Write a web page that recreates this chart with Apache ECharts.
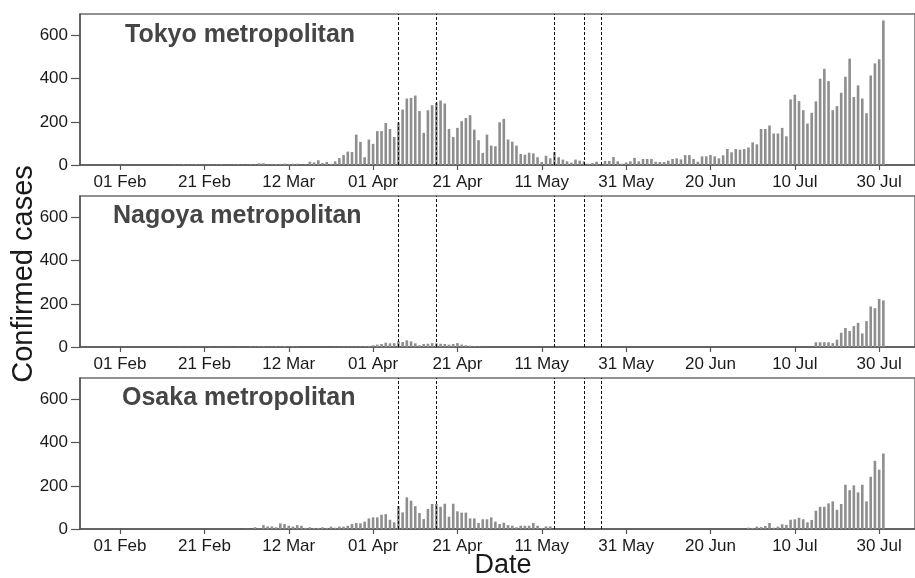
<!DOCTYPE html>
<html>
<head>
<meta charset="utf-8">
<script src="https://cdn.jsdelivr.net/npm/echarts@6/dist/echarts.min.js"></script>
<style>
html,body{margin:0;padding:0;background:#fff;}
#chart{width:915px;height:578px;}
</style>
</head>
<body>
<div id="chart"></div>
<script>
// ---------- DATA ----------
const startDate = '2020-01-23';
const dayCount = 198; // 23 Jan .. 7 Aug 2020
const tickDates = ['2020-02-01','2020-02-21','2020-03-12','2020-04-01','2020-04-21','2020-05-11','2020-05-31','2020-06-20','2020-07-10','2020-07-30'];
const tickLabels = ['01 Feb','21 Feb','12 Mar','01 Apr','21 Apr','11 May','31 May','20 Jun','10 Jul','30 Jul'];
const eventDates = ['2020-04-07','2020-04-16','2020-05-14','2020-05-21','2020-05-25'];
const yTicks = [0, 200, 400, 600];
const panelNames = ['Tokyo metropolitan', 'Nagoya metropolitan', 'Osaka metropolitan'];

// Tokyo metropolitan
const tokyoJan = [0,0,0,0,0,0,0,0,0];
const tokyoFeb = [0,0,0,0,0,0,0,0,0,0,0,0,1,2,1,3,2,2,3,2,1,2,1,2,3,1,1,2,3];
const tokyoMar = [2,1,3,2,8,8,2,3,4,5,6,4,6,6,2,3,15,12,22,9,14,5,17,32,46,62,60,141,107,36,118];
const tokyoApr = [98,157,157,195,167,130,197,257,308,311,322,250,149,254,277,288,299,285,167,130,172,203,218,231,164,115,56,141,90,87];
const tokyoMay = [198,214,118,108,90,51,48,57,54,36,14,43,31,60,36,25,17,11,25,20,17,6,9,15,3,19,19,37,17,6,12];
const tokyoJun = [17,33,17,28,28,28,15,14,14,20,28,31,26,46,46,28,15,40,40,46,40,31,45,74,59,74,71,74,81,105];
const tokyoJul = [96,167,167,183,146,146,172,133,304,326,296,254,192,242,295,400,446,389,254,273,335,409,493,315,369,308,240,415,471,490,670];
const tokyoAug = [0,0,0,0,0,0,0];

// Nagoya metropolitan
const nagoyaJan = [0,0,0,0,0,0,0,0,0];
const nagoyaFeb = [0,0,0,0,0,0,0,0,0,0,0,0,0,0,1,0,1,0,0,1,0,1,0,0,1,0,1,0,1];
const nagoyaMar = [0,0,2,1,2,3,1,2,3,2,4,2,3,2,0,0,0,0,0,0,0,0,1,1,2,1,2,1,2,3,5];
const nagoyaApr = [8,11,14,20,17,18,26,23,31,26,17,8,14,15,18,17,15,14,11,14,18,11,8,6,3,2,1,0,0,0];
const nagoyaMay = [0,0,0,0,0,0,0,0,0,0,0,0,0,0,0,0,0,0,0,0,0,0,0,0,0,0,0,0,0,0,0];
const nagoyaJun = [0,0,0,0,0,0,0,0,0,0,0,0,0,0,0,0,0,0,0,0,0,0,0,0,0,0,0,0,0,0];
const nagoyaJul = [0,0,0,0,0,0,0,0,0,0,0,0,0,0,22,22,22,22,18,34,66,88,74,97,112,63,120,188,180,223,216];
const nagoyaAug = [0,0,0,0,0,0,0];

// Osaka metropolitan
const osakaJan = [0,0,0,0,0,0,0,0,0];
const osakaFeb = [0,0,0,0,0,0,0,0,0,0,0,0,0,0,0,0,0,0,0,0,0,0,0,0,0,0,0,0,0];
const osakaMar = [0,1,0,8,2,18,12,12,8,26,23,15,11,18,15,5,8,5,5,8,5,11,6,11,11,15,23,28,26,34,49];
const osakaApr = [54,54,66,69,43,31,106,77,147,131,106,74,46,93,116,116,103,117,57,117,82,76,76,49,49,28,45,45,54,34];
const osakaMay = [23,29,18,15,8,15,15,15,28,15,5,12,12,0,0,0,0,0,0,0,0,0,0,0,0,0,0,0,0,0,0];
const osakaJun = [0,0,0,0,0,0,0,0,0,0,0,0,0,0,0,0,0,0,0,0,0,0,0,0,0,0,0,0,6,5];
const osakaJul = [11,9,14,28,6,11,22,19,43,45,52,45,31,42,85,103,103,119,128,89,116,205,180,202,170,205,128,242,316,275,350];
const osakaAug = [0,0,0,0,0,0,0];

// ---------- BUILD ----------
const dates = [];
{
  const t0 = Date.parse(startDate + 'T00:00:00Z');
  for (let i = 0; i < dayCount; i++) {
    dates.push(new Date(t0 + i * 86400000).toISOString().slice(0, 10));
  }
}
const seriesData = [
  [].concat(tokyoJan, tokyoFeb, tokyoMar, tokyoApr, tokyoMay, tokyoJun, tokyoJul, tokyoAug),
  [].concat(nagoyaJan, nagoyaFeb, nagoyaMar, nagoyaApr, nagoyaMay, nagoyaJun, nagoyaJul, nagoyaAug),
  [].concat(osakaJan, osakaFeb, osakaMar, osakaApr, osakaMay, osakaJun, osakaJul, osakaAug)
];

const FONT = '"Liberation Sans", Arial, Helvetica, sans-serif';
const gridTops = [14, 196, 378];
const gridH = 151;
const titleTops = [23, 204, 386];
const titleLefts = [125, 113, 122];
const isTick = (i, v) => tickDates.indexOf(v) >= 0;

const grids = [], xAxes = [], yAxes = [], series = [], titles = [];
for (let k = 0; k < 3; k++) {
  grids.push({
    left: 80, right: -1, top: gridTops[k], height: gridH,
    show: true, borderColor: '#6e6e6e', borderWidth: 1.5, containLabel: false
  });
  xAxes.push({
    type: 'category', gridIndex: k, data: dates, boundaryGap: true,
    axisLine: { show: true, lineStyle: { color: '#555', width: 1.5 } },
    axisTick: { show: true, alignWithLabel: true, interval: isTick, length: 5, lineStyle: { color: '#555', width: 1.2 } },
    axisLabel: {
      show: true, interval: isTick, margin: 9,
      formatter: v => { const j = tickDates.indexOf(v); return j >= 0 ? tickLabels[j] : ''; },
      fontSize: 17, color: '#1a1a1a', fontFamily: FONT
    },
    splitLine: { show: false }
  });
  yAxes.push({
    type: 'value', gridIndex: k, min: 0, max: 700,
    axisLine: { show: true, lineStyle: { color: '#555', width: 1.5 } },
    axisTick: { show: true, customValues: yTicks, length: 9, lineStyle: { color: '#555', width: 1.2 } },
    axisLabel: { show: true, customValues: yTicks, margin: 12, fontSize: 17, color: '#1a1a1a', fontFamily: FONT },
    splitLine: { show: false }
  });
  series.push({
    type: 'bar', xAxisIndex: k, yAxisIndex: k, data: seriesData[k],
    barWidth: 2.6,
    itemStyle: { color: '#8e8e8e' },
    animation: false,
    markLine: {
      silent: true, symbol: ['none', 'none'], animation: false,
      label: { show: false },
      lineStyle: { type: [3, 2], color: '#111', width: 1 },
      data: eventDates.map(d => ({ xAxis: d }))
    }
  });
  titles.push({
    text: panelNames[k], left: titleLefts[k], top: titleTops[k], padding: 0,
    textStyle: { fontSize: 25, fontWeight: 'bold', color: '#454545', fontFamily: FONT }
  });
}

const chart = echarts.init(document.getElementById('chart'), null, { renderer: 'canvas' });
chart.setOption({
  backgroundColor: '#fff',
  animation: false,
  title: titles,
  grid: grids,
  xAxis: xAxes,
  yAxis: yAxes,
  series: series,
  graphic: [
    {
      type: 'text', x: 24, y: 274, rotation: Math.PI / 2,
      style: { text: 'Confirmed cases', fontSize: 29, fill: '#1a1a1a', fontFamily: FONT, align: 'center', verticalAlign: 'middle' }
    },
    {
      type: 'text', x: 503, y: 566,
      style: { text: 'Date', fontSize: 27, fill: '#1a1a1a', fontFamily: FONT, align: 'center', verticalAlign: 'middle' }
    }
  ]
});
</script>
</body>
</html>
